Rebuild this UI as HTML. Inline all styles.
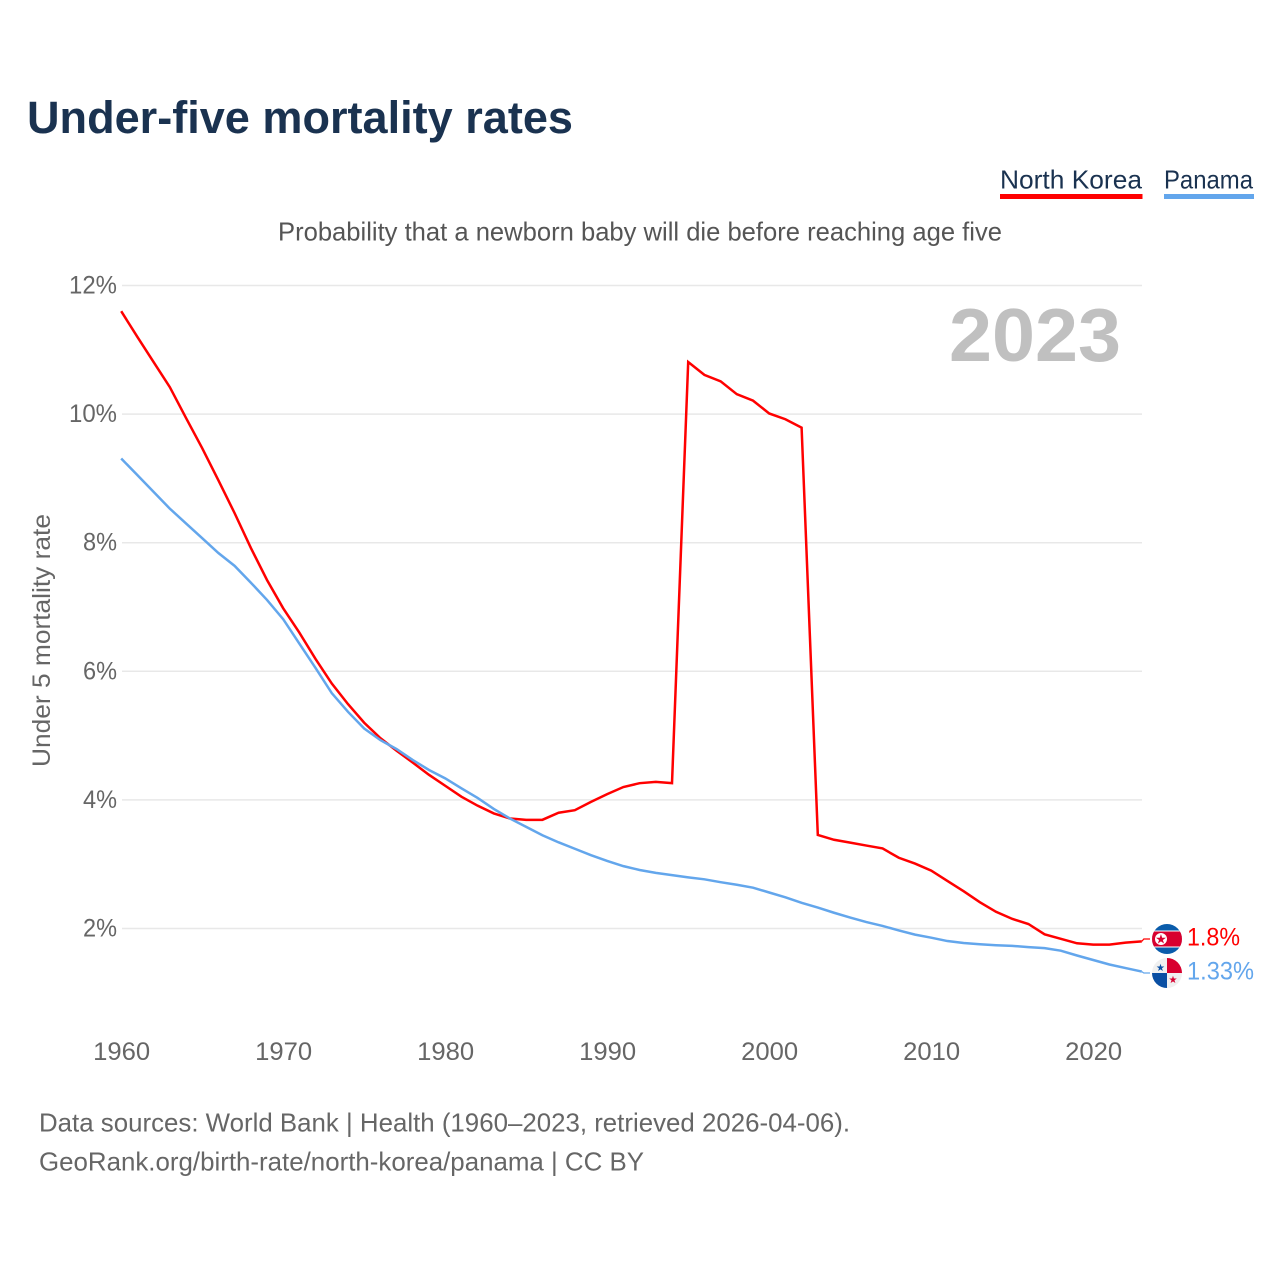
<!DOCTYPE html>
<html lang="en">
<head>
<meta charset="utf-8">
<title>Under-five mortality rates</title>
<style>
html,body{margin:0;padding:0;background:#fff;width:1280px;height:1280px;overflow:hidden}
svg{display:block}
text{font-family:"Liberation Sans",sans-serif}
</style>
</head>
<body>
<svg id="chart" width="1280" height="1280" viewBox="0 0 1280 1280" xmlns="http://www.w3.org/2000/svg">
<defs>
<clipPath id="clip-nk"><circle cx="1167" cy="939" r="15"/></clipPath>
<clipPath id="clip-pa"><circle cx="1167" cy="973" r="15"/></clipPath>
</defs>
<text x="27" y="133" font-size="45" font-weight="700" fill="#1a3250" textLength="546" lengthAdjust="spacingAndGlyphs">Under-five mortality rates</text>
<text x="1000" y="188.500" font-size="26" fill="#1a3250" textLength="142" lengthAdjust="spacingAndGlyphs">North Korea</text>
<rect x="1000" y="194" width="142.500" height="5" fill="#ff0000"/>
<text x="1164" y="188.500" font-size="26" fill="#1a3250" textLength="89" lengthAdjust="spacingAndGlyphs">Panama</text>
<rect x="1164" y="194" width="90" height="5" fill="#63a6ec"/>
<text x="278" y="240.500" font-size="26" fill="#555" textLength="724" lengthAdjust="spacingAndGlyphs">Probability that a newborn baby will die before reaching age five</text>
<g id="grid"></g>
<g id="yticks"></g>
<g id="xticks"></g>
<text transform="translate(50,767) rotate(-90)" font-size="25" fill="#666" textLength="253" lengthAdjust="spacingAndGlyphs">Under 5 mortality rate</text>
<text x="949" y="361" font-size="75" font-weight="700" fill="#c0c0c0" textLength="172" lengthAdjust="spacingAndGlyphs">2023</text>
<g id="series"></g>
<g clip-path="url(#clip-nk)">
<rect x="1152" y="924" width="30" height="30" fill="#0a5cab"/>
<rect x="1152" y="930.500" width="30" height="17" fill="#fff"/>
<rect x="1152" y="931.500" width="30" height="15" fill="#d8002f"/>
<circle cx="1161" cy="939" r="6" fill="#fff"/>
<text x="1161" y="943.500" font-size="13" text-anchor="middle" fill="#d8002f">★</text>
</g>
<g clip-path="url(#clip-pa)">
<rect x="1152" y="958" width="30" height="30" fill="#f0f0f0"/>
<rect x="1167" y="958" width="15" height="15" fill="#d8002f"/>
<rect x="1152" y="973" width="15" height="15" fill="#0a4fa3"/>
<text x="1160.500" y="971" font-size="10" text-anchor="middle" fill="#0a4fa3">★</text>
<text x="1173" y="983" font-size="10" text-anchor="middle" fill="#d8002f">★</text>
</g>
<text x="1187" y="945.500" font-size="25" fill="#ff0000" textLength="53" lengthAdjust="spacingAndGlyphs">1.8%</text>
<text x="1187" y="979.500" font-size="25" fill="#63a6ec" textLength="67" lengthAdjust="spacingAndGlyphs">1.33%</text>
<text x="39" y="1131.500" font-size="26" fill="#666" textLength="811" lengthAdjust="spacingAndGlyphs">Data sources: World Bank | Health (1960–2023, retrieved 2026-04-06).</text>
<text x="39" y="1170.500" font-size="26" fill="#666" textLength="605" lengthAdjust="spacingAndGlyphs">GeoRank.org/birth-rate/north-korea/panama | CC BY</text>
</svg>
<script>
const startYear = 1960;
const northKorea = [11.6,11.2,10.81,10.42,9.94,9.47,8.97,8.46,7.92,7.42,6.98,6.6,6.19,5.81,5.49,5.2,4.96,4.765,4.58,4.39,4.22,4.05,3.91,3.79,3.71,3.69,3.69,3.8,3.84,3.97,4.09,4.2,4.26,4.28,4.26,10.81,10.61,10.51,10.31,10.21,10.01,9.92,9.79,3.455,3.38,3.335,3.29,3.245,3.1,3.01,2.9,2.74,2.58,2.41,2.26,2.15,2.07,1.91,1.84,1.77,1.75,1.75,1.78,1.8];
const panama = [9.31,9.05,8.79,8.53,8.3,8.07,7.84,7.64,7.38,7.11,6.81,6.43,6.05,5.66,5.37,5.11,4.93,4.79,4.62,4.465,4.335,4.18,4.03,3.86,3.71,3.58,3.45,3.34,3.24,3.14,3.05,2.97,2.91,2.865,2.83,2.795,2.765,2.72,2.68,2.635,2.56,2.485,2.4,2.325,2.245,2.17,2.1,2.04,1.97,1.905,1.857,1.805,1.775,1.755,1.74,1.73,1.71,1.695,1.655,1.58,1.51,1.44,1.385,1.33];
const yTickValues = [2,4,6,8,10,12];
const xTickValues = [1960,1970,1980,1990,2000,2010,2020];

const NS = 'http://www.w3.org/2000/svg';
function xScale(year){ return 121.2 + (year - 1960) * 16.2; }
function yScale(v){ return 1057.1 - v * 64.3; }
function make(tag, attrs){
  const el = document.createElementNS(NS, tag);
  for (const k in attrs) el.setAttribute(k, attrs[k]);
  return el;
}
const grid = document.getElementById('grid');
const yticks = document.getElementById('yticks');
const xticks = document.getElementById('xticks');
const series = document.getElementById('series');

yTickValues.forEach(function(v){
  const line = make('line', {x1:122, x2:1142, y1:yScale(v), y2:yScale(v), stroke:'#e8e8e8', 'stroke-width':1.5});
  
  
  grid.appendChild(line);
  const t = make('text', {x:117, y:yScale(v)+8, 'font-size':25, fill:'#666', 'text-anchor':'end', textLength: v >= 10 ? 48 : 34, lengthAdjust:'spacingAndGlyphs'});
  
  
  t.textContent = v + '%';
  yticks.appendChild(t);
});

xTickValues.forEach(function(y){
  const t = make('text', {x:xScale(y)+0.5, y:1060, 'font-size':25, fill:'#666', 'text-anchor':'middle', textLength:57, lengthAdjust:'spacingAndGlyphs'});
  
  
  t.textContent = y;
  xticks.appendChild(t);
});

function drawSeries(values, color, leaderY, name){
  const pts = values.map(function(v,i){ return xScale(startYear+i).toFixed(2)+','+yScale(v).toFixed(2); });
  const lastX = xScale(startYear + values.length - 1);
  const lastY = yScale(values[values.length-1]);
  const path = make('polyline', {points:pts.join(' '), fill:'none', stroke:color, 'stroke-width':2.5, 'stroke-linejoin':'miter'});
  
  
  series.appendChild(path);
  const leader = make('polyline', {points:lastX.toFixed(2)+','+lastY.toFixed(2)+' '+(lastX+2).toFixed(2)+','+leaderY+' 1150,'+leaderY, fill:'none', stroke:color, 'stroke-width':1.2});
  
  
  series.appendChild(leader);
}
drawSeries(northKorea, '#ff0000', 939, 'north-korea-line');
drawSeries(panama, '#63a6ec', 973, 'panama-line');
</script>
</body>
</html>
